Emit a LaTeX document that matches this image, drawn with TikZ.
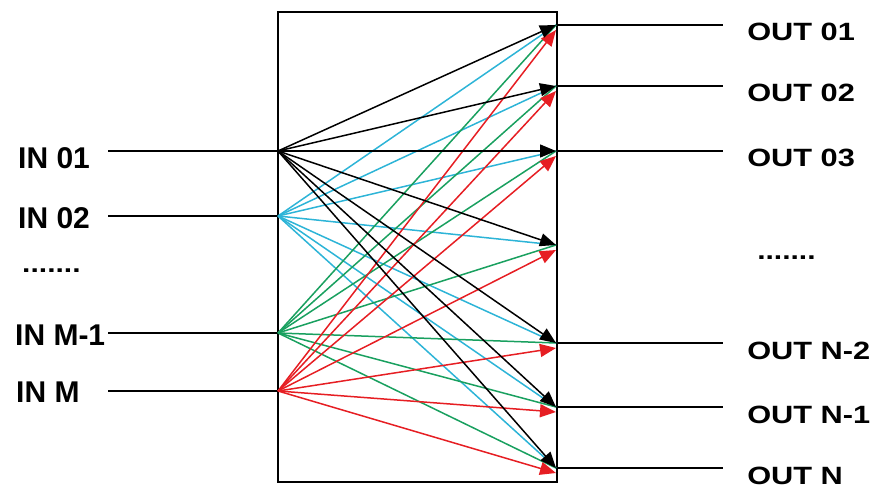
\documentclass[tikz,border=0pt]{standalone}
\usepackage{fontspec}
\setmainfont{Liberation Sans}
\usetikzlibrary{arrows.meta,positioning}
\definecolor{fanblue}{RGB}{45,180,215}
\definecolor{fangreen}{RGB}{25,160,95}
\definecolor{fanred}{RGB}{230,30,35}
\tikzset{
  inlabel/.style={
    anchor=base west,
    inner sep=0pt,
    font=\fontsize{30}{30}\selectfont\bfseries
  },
  outlabel/.style={
    anchor=base west,
    inner sep=0pt,
    xscale=1.23,
    font=\fontsize{25}{25}\selectfont\bfseries
  },
  dotlabel/.style={
    anchor=base west,
    inner sep=0pt,
    xscale=1.2,
    font=\fontsize{25}{25}\selectfont\bfseries
  },
  switchbox/.style={
    draw=black,
    line width=1.5pt,
    minimum width=279pt,
    minimum height=470pt,
    inner sep=0pt
  },
  portline/.style={
    line width=1.6pt
  },
  fanline/.style={
    line width=1.5pt
  },
  fanarrow/.style={
    fanline,
    -{Triangle[length=16pt,width=13pt]}
  }
}

\begin{document}
\begin{tikzpicture}[x=1pt,y=-1pt]
  \useasboundingbox (0,0) rectangle (877,489);
  \node[switchbox] (box) at (417.5,247) {};
  % input side
  \coordinate (in1) at (278,151);
  \coordinate (in2) at (278,216);
  \coordinate (in3) at (278,333);
  \coordinate (in4) at (278,391);
  \coordinate (a1) at (108,151);
  \coordinate (a2) at (108,216);
  \coordinate (a3) at (108,333);
  \coordinate (a4) at (108,391);
  \node[inlabel] (lin1) at (18,168) {IN 01};
  \node[inlabel] (lin2) at (18,228) {IN 02};
  \node[dotlabel] (ldots) at (22,272) {.......};
  \node[inlabel] (lin3) at (15,345) {IN M-1};
  \node[inlabel] (lin4) at (16,402) {IN M};
  \draw[portline] (a1) -- (in1);
  \draw[portline] (a2) -- (in2);
  \draw[portline] (a3) -- (in3);
  \draw[portline] (a4) -- (in4);
  % output side
  \coordinate (o1) at (556,25);
  \coordinate (o2) at (556,86);
  \coordinate (o3) at (556,151);
  \coordinate (o4) at (556,245);
  \coordinate (o5) at (556,343);
  \coordinate (o6) at (556,407);
  \coordinate (o7) at (556,468);
  \coordinate (b1) at (723,25);
  \coordinate (b2) at (723,86);
  \coordinate (b3) at (723,151);
  \coordinate (b5) at (723,343);
  \coordinate (b6) at (723,407);
  \coordinate (b7) at (723,468);
  \node[outlabel] (lout1) at (747,41) {OUT 01};
  \node[outlabel] (lout2) at (747,102) {OUT 02};
  \node[outlabel] (lout3) at (747,167) {OUT 03};
  \node[dotlabel] (rdots) at (757,259) {.......};
  \node[outlabel] (lout5) at (747,359) {OUT N-2};
  \node[outlabel] (lout6) at (747,423) {OUT N-1};
  \node[outlabel] (lout7) at (747,484) {OUT N};
  \draw[portline] (o1) -- (b1);
  \draw[portline] (o2) -- (b2);
  \draw[portline] (o3) -- (b3);
  \draw[portline] (o5) -- (b5);
  \draw[portline] (o6) -- (b6);
  \draw[portline] (o7) -- (b7);
  % crossbar
  \foreach \o in {1,...,7}
    \draw[fanline, fanblue] (in2) -- (o\o);
  \foreach \o in {1,...,7}
    \draw[fanline, fangreen] (in3) -- (o\o);
  \foreach \o in {1,...,7}
    \draw[fanarrow, fanred] (in4) -- ([yshift=-5pt]o\o);
  \foreach \o in {1,...,7}
    \draw[fanarrow, black] (in1) -- (o\o);
\end{tikzpicture}
\end{document}
